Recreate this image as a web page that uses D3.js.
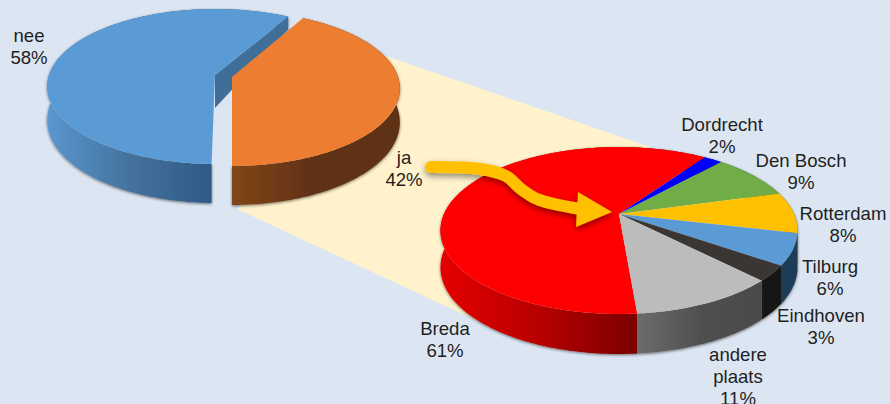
<!DOCTYPE html>
<html><head><meta charset="utf-8">
<script src="https://cdn.jsdelivr.net/npm/d3@7"></script>
<style>html,body{margin:0;padding:0;background:#dce6f2}svg{display:block}</style>
</head><body><svg id="c" width="890" height="404"></svg>
<script>
// ---- data ----
const leftCategories = ["ja", "nee"];
const leftValues = [42, 58];
const rightCategories = ["Breda", "Dordrecht", "Den Bosch", "Rotterdam", "Tilburg", "Eindhoven", "andere plaats"];
const rightValues = [61, 2, 9, 8, 6, 3, 11];
// ---- styles ----
const leftTop = ["#ed7d31", "#5b9bd5"];
const leftWall = [["#82461a", "#5e3012", "#5e3012"], ["#5b97d0", "#44729d", "#2f5a85"]];
const rightTop = ["#ff0000", "#0000ff", "#70ad47", "#ffc000", "#5b9bd5", "#3b3533", "#bcbcbc"];
const rightWall = [["#e40000", "#b80000", "#7a0000"], ["#000080", "#000080", "#000080"], ["#38562a", "#38562a", "#38562a"],
  ["#7f6000", "#7f6000", "#7f6000"], ["#1f3c58", "#1f3c58", "#203a54"], ["#1a1a1a", "#161616", "#161616"], ["#6c6c6c", "#505050", "#4a4a4a"]];
// ---- layout ----
const rad = d => d * Math.PI / 180;
const geoLeft = { R: 166, K: 75.8, p: 0.148, depth: v => v >= 0 ? 33 + 6 * v : 33 + 23 * v };
const geoRight = { R: 175, K: 80.2, p: 0.198, cx: 619, cy: 214, depth: v => v >= 0 ? 36 + 4 * v : 36 + 20 * v };
const leftCentres = [{ cx: 232, cy: 77, rot: 0 }, { cx: 215, cy: 75, rot: 1 }];
const leftLabelAt = [[404, 164], [29, 42]];
const rightLabelAt = [[445, 335], [722, 131], [801, 167], [843, 220], [830, 273], [821, 322], [738, 361]];
const lineGap = 22;
const labelFont = "'Liberation Sans', Arial, sans-serif";

const svg = d3.select("#c");
const defs = svg.append("defs");
const shadow = defs.append("filter").attr("id", "shadow").attr("x", "-10%").attr("y", "-10%").attr("width", "120%").attr("height", "125%");
shadow.append("feDropShadow").attr("dx", 0).attr("dy", 1).attr("stdDeviation", 1.8).attr("flood-color", "#000").attr("flood-opacity", 0.55);
const arrowShadow = defs.append("filter").attr("id", "arrowShadow").attr("x", "-10%").attr("y", "-20%").attr("width", "120%").attr("height", "150%");
arrowShadow.append("feDropShadow").attr("dx", 0).attr("dy", 3).attr("stdDeviation", 3).attr("flood-color", "#000").attr("flood-opacity", 0.45);

svg.append("rect").attr("width", 890).attr("height", 404).attr("fill", "#dce6f2");

// connecting band between the two pies
const band = [[237, 209], [383, 55], [650, 147], [480, 322]];
svg.append("path").attr("d", d3.line()(band) + "Z").attr("fill", "#fff2cc");

const line = d3.line();
function projector(g) {
  return (theta, r = 1, withDepth = false) => {
    const u = r * Math.sin(theta), v = -r * Math.cos(theta), w = 1 / (1 - g.p * v);
    return [g.cx + g.R * u * w, g.cy + g.K * v * w + (withDepth ? g.depth(v) : 0)];
  };
}
function arcAngles(a) {
  const n = Math.max(2, Math.ceil((a.endAngle - a.startAngle) / rad(1)));
  return d3.range(n + 1).map(i => a.startAngle + (a.endAngle - a.startAngle) * i / n);
}
function topPath(P, a) {
  return line([P(0, 0), ...arcAngles(a).map(t => P(t))]) + "Z";
}
function wallPath(P, a) {
  const ts = arcAngles(a);
  return line([...ts.map(t => P(t)), ...ts.slice().reverse().map(t => P(t, 1, true))]) + "Z";
}
function wallGradient(id, P, a, stops) {
  const xs = arcAngles(a).filter(t => { const c = Math.cos(t); return c <= 0.15; }).map(t => P(t)[0]);
  const ext = d3.extent(xs.length ? xs : [P(a.startAngle)[0], P(a.endAngle)[0]]);
  const g = defs.append("linearGradient").attr("id", id).attr("gradientUnits", "userSpaceOnUse")
    .attr("x1", ext[0]).attr("x2", ext[1]).attr("y1", 0).attr("y2", 0);
  stops.forEach((c, i) => g.append("stop").attr("offset", i / (stops.length - 1)).attr("stop-color", c));
  return `url(#${id})`;
}

// left pie
const leftArcs = d3.pie().sort(null).startAngle(rad(28.8)).endAngle(rad(388.8))(leftValues);
const leftG = svg.append("g");
const leftShapes = leftArcs.map((a, i) => {
  const c = leftCentres[i], g = { ...geoLeft, cx: c.cx, cy: c.cy };
  const arc = { ...a, startAngle: a.startAngle + rad(c.rot), endAngle: a.endAngle + rad(c.rot) };
  return { arc, i, P: projector(g) };
});
leftG.append("g").attr("filter", "url(#shadow)").selectAll("path").data(leftShapes).join("path")
  .attr("d", d => wallPath(d.P, d.arc))
  .attr("fill", d => wallGradient("lw" + d.i, d.P, d.arc, leftWall[d.i]));
// visible cut face of "nee"
const nee = leftShapes[1];
leftG.append("path").attr("fill", "#3f6f99")
  .attr("d", line([nee.P(nee.arc.endAngle), nee.P(0, 0), nee.P(0, 0, true), nee.P(nee.arc.endAngle, 1, true)]) + "Z");
leftG.append("g").selectAll("path").data(leftShapes).join("path")
  .attr("d", d => topPath(d.P, d.arc)).attr("fill", d => leftTop[d.i]);

// right pie
const rightArcs = d3.pie().sort(null).startAngle(rad(175.2)).endAngle(rad(535.2))(rightValues);
const PR = projector(geoRight);
const rightG = svg.append("g");
rightG.append("g").attr("filter", "url(#shadow)").selectAll("path").data(rightArcs).join("path")
  .attr("d", d => wallPath(PR, d))
  .attr("fill", (d, i) => wallGradient("rw" + i, PR, d, rightWall[i]));
rightG.append("g").selectAll("path").data(rightArcs).join("path")
  .attr("d", d => topPath(PR, d)).attr("fill", (d, i) => rightTop[i]);

// arrow
const arrowG = svg.append("g").attr("filter", "url(#arrowShadow)");
const arrowLine = [[431, 167], [480, 169], [506, 176], [521, 189], [537, 199], [580, 209]];
arrowG.append("path").attr("d", d3.line().curve(d3.curveCatmullRom)(arrowLine))
  .attr("fill", "none").attr("stroke", "#ffc000").attr("stroke-width", 12).attr("stroke-linecap", "round");
arrowG.append("path").attr("d", line([[578, 192], [612, 212], [576, 227]]) + "Z").attr("fill", "#ffc000");

// labels
function labels(cats, vals, at) {
  const items = cats.map((c, i) => ({ lines: [...c.split(" ").filter(() => c === "andere plaats")
      .concat(c === "andere plaats" ? [] : [c]), vals[i] + "%"], at: at[i] }));
  const g = svg.append("g").attr("font-family", labelFont).attr("font-size", 18.6).attr("fill", "#1f1f1f").attr("text-anchor", "middle");
  g.selectAll("text").data(items).join("text")
    .attr("x", d => d.at[0]).attr("y", d => d.at[1])
    .selectAll("tspan").data(d => d.lines.map(l => ({ l, x: d.at[0] }))).join("tspan")
    .attr("x", d => d.x).attr("dy", (d, i) => i ? lineGap : 0).text(d => d.l);
}
labels(leftCategories, leftValues, leftLabelAt);
labels(rightCategories, rightValues, rightLabelAt);
</script></body></html>
